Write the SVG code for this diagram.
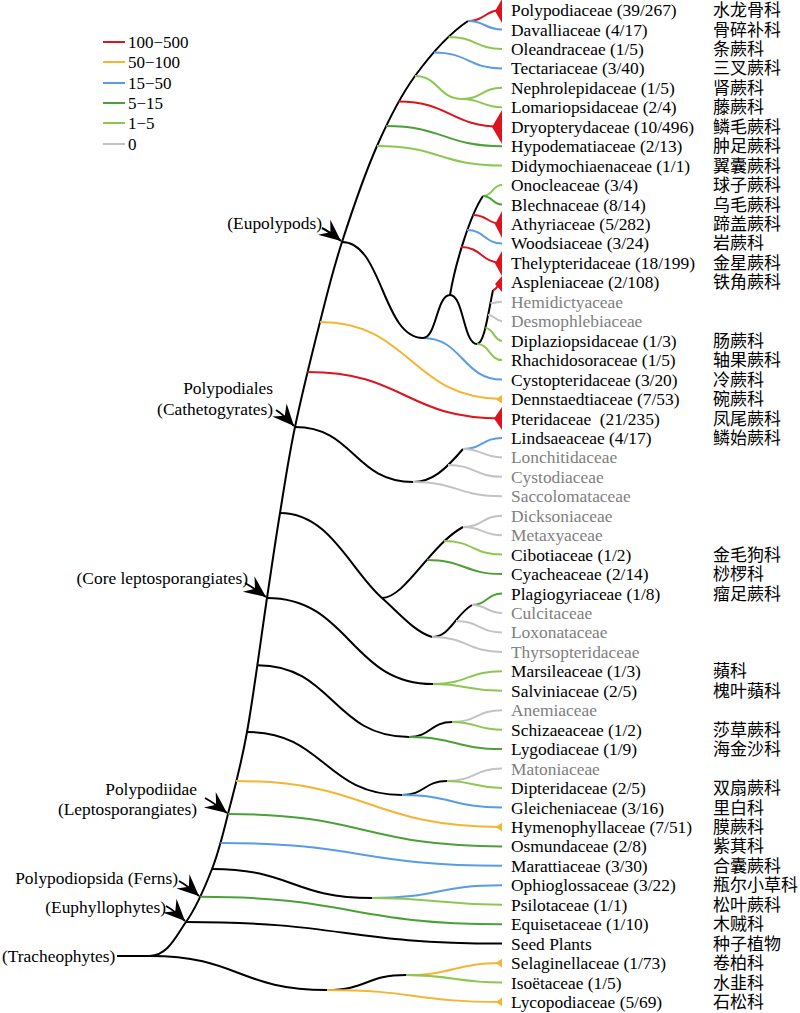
<svg xmlns="http://www.w3.org/2000/svg" width="800" height="1013" viewBox="0 0 800 1013">
<defs>
<style>
.t{font-family:"Liberation Serif","Times New Roman",serif;font-size:17.4px;fill:#000}
.g{fill:#808080}
.c{font-family:"Noto Sans CJK SC","Noto Sans CJK TC",sans-serif;font-size:17px;fill:#000}
.e{text-anchor:end}
.lg{font-family:"Liberation Serif",serif;font-size:17px}
path{fill:none;stroke-width:2}
.k{stroke:#000}
.R{stroke:#dc141e}.O{stroke:#f5b432}.B{stroke:#5a9be6}.G{stroke:#4ba037}.L{stroke:#8cc850}.Y{stroke:#c3c3c3}
.tr{fill:#dc141e;stroke:none}.to{fill:#f5b432;stroke:none}
.ar{stroke:#000;stroke-width:2;fill:none}
</style>
<marker id="ah" markerUnits="userSpaceOnUse" orient="auto" refX="0" refY="0" markerWidth="24" markerHeight="24" viewBox="-20 -10 21 20" overflow="visible">
<path d="M0,0 L-19,-8.5 L-12,0 L-19,8.5 Z" style="fill:#000;stroke:none"/>
</marker>
</defs>
<rect width="800" height="1013" fill="#fff"/>

<g id="legend">
<path class="R" d="M103,42 H125"/><path class="O" d="M103,62 H125"/><path class="B" d="M103,83 H125"/><path class="G" d="M103,103 H125"/><path class="L" d="M103,123 H125"/><path class="Y" d="M103,144 H125"/>
<text class="lg" x="128" y="48">100−500</text>
<text class="lg" x="128" y="68">50−100</text>
<text class="lg" x="128" y="89">15−50</text>
<text class="lg" x="128" y="109">5−15</text>
<text class="lg" x="128" y="129">1−5</text>
<text class="lg" x="128" y="150">0</text>
</g>

<g id="connectors">
<path class="k" d="M117,956 L150,956"/>
<path class="k" d="M150,956 C168,955 175.7,936.5 186,922 C196.3,907.5 205,887 212,869 C219,851 222.2,836.8 228,814 C233.8,791.2 240.5,768 247,732 C253.5,696 261.5,634.5 267,598 C272.5,561.5 275.3,541.5 280,513 C284.7,484.5 288.3,458.8 295,427 C301.7,395.2 312.2,352.8 320,322 C327.8,291.2 332.5,271.3 342,242 C351.5,212.7 364.8,173.7 377,146 C389.2,118.3 399.8,96.8 415,76 C430.2,55.2 450,33 468,21"/>
<path class="R" d="M468,21 C485,21 485,10 502,10"/>
<path class="B" d="M468,21 C485,21 485,29.5 502,29.5"/>
<path class="L" d="M448.7,36.9 C475.4,36.9 475.4,48.9 502,48.9"/>
<path class="B" d="M434,52.4 C468,52.4 468,68.4 502,68.4"/>
<path class="L" d="M415,76 C438.5,76 438.5,99 462,99"/>
<path class="L" d="M462,99 C482,99 482,87.8 502,87.8"/>
<path class="L" d="M462,99 C482,99 482,107.3 502,107.3"/>
<path class="R" d="M398.5,101.5 C450.3,101.5 450.3,126.7 502,126.7"/>
<path class="G" d="M386,126 C444,126 444,146.2 502,146.2"/>
<path class="L" d="M377,146 C439.5,146 439.5,165.6 502,165.6"/>

<path class="k" d="M342,242 C382.5,242 382.5,338 423,338"/>
<path class="B" d="M423,338 C462.5,338 462.5,379.6 502,379.6"/>
<path class="k" d="M423,338 C436.5,338 436.5,295 450,295"/>
<path class="k" d="M450,295 C455,265 470,215 483,196"/>
<path class="k" d="M450,295 C463.5,295 463.5,344 477,344"/>
<path class="k" d="M477,344 C484,343 487,320 493,290"/>
<path class="L" d="M483,196 C492.5,196 492.5,185.1 502,185.1"/>
<path class="G" d="M483,196 C492.5,196 492.5,204.5 502,204.5"/>
<path class="R" d="M473,215 C487.5,215 487.5,224 502,224"/>
<path class="B" d="M467,230 C484.5,230 484.5,243.4 502,243.4"/>
<path class="R" d="M461,247 C481.5,247 481.5,262.9 502,262.9"/>
<path class="R" d="M493,290 C497.5,290 497.5,282.3 502,282.3"/>
<path class="Y" d="M490.5,303 C496,303 496,301.8 502,301.8"/>
<path class="Y" d="M488,315 C495,315 495,321.2 502,321.2"/>
<path class="L" d="M485.4,328 C493.7,328 493.7,340.7 502,340.7"/>
<path class="L" d="M477,344 C489.5,344 489.5,360.1 502,360.1"/>

<path class="O" d="M320,322 C411,322 411,399 502,399"/>
<path class="R" d="M307.5,372 C404.8,372 404.8,418.5 502,418.5"/>

<path class="k" d="M295,427 C354,427 354,482 413,482"/>
<path class="k" d="M413,482 C432,482 445,470 463,449"/>
<path class="B" d="M463,449 C482.5,449 482.5,437.9 502,437.9"/>
<path class="Y" d="M463,449 C482.5,449 482.5,457.4 502,457.4"/>
<path class="Y" d="M448,465 C475,465 475,476.8 502,476.8"/>
<path class="Y" d="M413,482 C457.5,482 457.5,496.3 502,496.3"/>

<path class="k" d="M280,513 C330,513 350,570 382,598 C400,614 415,632 432,637"/>
<path class="k" d="M382,598 C405,598 430,545 463,527"/>
<path class="Y" d="M463,527 C482.5,527 482.5,515.7 502,515.7"/>
<path class="Y" d="M463,527 C482.5,527 482.5,535.2 502,535.2"/>
<path class="L" d="M444,541 C473,541 473,554.6 502,554.6"/>
<path class="G" d="M427,560 C464.5,560 464.5,574.1 502,574.1"/>
<path class="k" d="M432,637 C450,637 455,615 472,605"/>
<path class="G" d="M472,605 C487,605 487,593.5 502,593.5"/>
<path class="Y" d="M472,605 C487,605 487,613 502,613"/>
<path class="Y" d="M456,621 C479,621 479,632.4 502,632.4"/>
<path class="Y" d="M432,637 C467,637 467,651.9 502,651.9"/>

<path class="k" d="M267,598 C350,598 350,684 433,684"/>
<path class="L" d="M433,684 C467.5,684 467.5,671.3 502,671.3"/>
<path class="L" d="M433,684 C467.5,684 467.5,690.8 502,690.8"/>

<path class="k" d="M257.4,665.2 C333,665.2 333,737 409,737"/>
<path class="k" d="M409,737 C430.5,737 430.5,722 452,722"/>
<path class="Y" d="M452,722 C477,722 477,710.2 502,710.2"/>
<path class="L" d="M452,722 C477,722 477,729.7 502,729.7"/>
<path class="G" d="M409,737 C455.5,737 455.5,749.1 502,749.1"/>

<path class="k" d="M247,732 C324.5,732 324.5,795 402,795"/>
<path class="k" d="M402,795 C424.5,795 424.5,781 447,781"/>
<path class="Y" d="M447,781 C474.5,781 474.5,768.6 502,768.6"/>
<path class="L" d="M447,781 C474.5,781 474.5,788 502,788"/>
<path class="B" d="M402,795 C452,795 452,807.5 502,807.5"/>

<path class="O" d="M236,781 C369,781 369,826.9 502,826.9"/>
<path class="G" d="M228,814 C365,814 365,846.4 502,846.4"/>
<path class="B" d="M220.5,843 C361.3,843 361.3,865.8 502,865.8"/>
<path class="k" d="M212,869 C292,869 292,898 372,898"/>
<path class="B" d="M372,898 C437,898 437,885.3 502,885.3"/>
<path class="L" d="M372,898 C437,898 437,904.7 502,904.7"/>
<path class="G" d="M200.2,896.8 C351,896.8 351,924.2 502,924.2"/>
<path class="k" d="M186,922 C344,922 344,943.6 502,943.6"/>

<path class="k" d="M150,956 C238.5,956 238.5,990 327,990"/>
<path class="k" d="M327,990 C366.5,990 366.5,975 406,975"/>
<path class="O" d="M406,975 C454,975 454,963.1 502,963.1"/>
<path class="L" d="M406,975 C454,975 454,982.5 502,982.5"/>
<path class="O" d="M327,990 C414.5,990 414.5,1002 502,1002"/>

<path class="ar" d="M322,228 Q330,232 341,241" marker-end="url(#ah)"/>
<path class="ar" d="M276,410 Q284,415 294,426" marker-end="url(#ah)"/>
<path class="ar" d="M245,583 Q254,588 266,597" marker-end="url(#ah)"/>
<path class="ar" d="M205,798 Q214,803 227,813" marker-end="url(#ah)"/>
<path class="ar" d="M179,881 Q188,886 199,896" marker-end="url(#ah)"/>
<path class="ar" d="M166,906 Q175,911 185,921" marker-end="url(#ah)"/>
</g>

<g id="clade-labels">
<g id="c-eupolypods"><text class="t e" x="322" y="229">(Eupolypods)</text></g>
<g id="c-polypodiales"><text class="t e" x="273" y="394">Polypodiales</text><text class="t e" x="273" y="415">(Cathetogyrates)</text></g>
<g id="c-core"><text class="t e" x="248" y="584">(Core leptosporangiates)</text></g>
<g id="c-polypodiidae"><text class="t e" x="197" y="795">Polypodiidae</text><text class="t e" x="197" y="815">(Leptosporangiates)</text></g>
<g id="c-ferns"><text class="t e" x="178" y="884">Polypodiopsida (Ferns)</text></g>
<g id="c-euphyll"><text class="t e" x="166" y="913">(Euphyllophytes)</text></g>
<g id="c-tracheo"><text class="t" x="2" y="962">(Tracheophytes)</text></g>
</g>

<g id="n01"><polygon class="tr" points="502,-1 502,23 495,11"/><text class="t" x="511" y="16">Polypodiaceae (39/267)</text><text class="c" x="713" y="16">水龙骨科</text></g>
<g id="n02"><text class="t" x="511" y="35.5">Davalliaceae (4/17)</text><text class="c" x="713" y="35.5">骨碎补科</text></g>
<g id="n03"><text class="t" x="511" y="54.9">Oleandraceae (1/5)</text><text class="c" x="713" y="54.9">条蕨科</text></g>
<g id="n04"><text class="t" x="511" y="74.4">Tectariaceae (3/40)</text><text class="c" x="713" y="74.4">三叉蕨科</text></g>
<g id="n05"><text class="t" x="511" y="93.8">Nephrolepidaceae (1/5)</text><text class="c" x="713" y="93.8">肾蕨科</text></g>
<g id="n06"><text class="t" x="511" y="113.3">Lomariopsidaceae (2/4)</text><text class="c" x="713" y="113.3">藤蕨科</text></g>
<g id="n07"><polygon class="tr" points="502,110 502,144 492,127"/><text class="t" x="511" y="132.7">Dryopterydaceae (10/496)</text><text class="c" x="713" y="132.7">鳞毛蕨科</text></g>
<g id="n08"><text class="t" x="511" y="152.2">Hypodematiaceae (2/13)</text><text class="c" x="713" y="152.2">肿足蕨科</text></g>
<g id="n09"><text class="t" x="511" y="171.6">Didymochiaenaceae (1/1)</text><text class="c" x="713" y="171.6">翼囊蕨科</text></g>
<g id="n10"><text class="t" x="511" y="191.1">Onocleaceae (3/4)</text><text class="c" x="713" y="191.1">球子蕨科</text></g>
<g id="n11"><text class="t" x="511" y="210.5">Blechnaceae (8/14)</text><text class="c" x="713" y="210.5">乌毛蕨科</text></g>
<g id="n12"><polygon class="tr" points="502,211 502,238 495,224.5"/><text class="t" x="511" y="230">Athyriaceae (5/282)</text><text class="c" x="713" y="230">蹄盖蕨科</text></g>
<g id="n13"><text class="t" x="511" y="249.4">Woodsiaceae (3/24)</text><text class="c" x="713" y="249.4">岩蕨科</text></g>
<g id="n14"><polygon class="tr" points="502,251 502,276 495,263.5"/><text class="t" x="511" y="268.9">Thelypteridaceae (18/199)</text><text class="c" x="713" y="268.9">金星蕨科</text></g>
<g id="n15"><polygon class="tr" points="502,276 502,292 495,284"/><text class="t" x="511" y="288.3">Aspleniaceae (2/108)</text><text class="c" x="713" y="288.3">铁角蕨科</text></g>
<g id="n16"><text class="t g" x="511" y="307.8">Hemidictyaceae</text></g>
<g id="n17"><text class="t g" x="511" y="327.2">Desmophlebiaceae</text></g>
<g id="n18"><text class="t" x="511" y="346.7">Diplaziopsidaceae (1/3)</text><text class="c" x="713" y="346.7">肠蕨科</text></g>
<g id="n19"><text class="t" x="511" y="366.1">Rhachidosoraceae (1/5)</text><text class="c" x="713" y="366.1">轴果蕨科</text></g>
<g id="n20"><text class="t" x="511" y="385.6">Cystopteridaceae (3/20)</text><text class="c" x="713" y="385.6">冷蕨科</text></g>
<g id="n21"><polygon class="to" points="502,395 502,403.5 495.5,399.2"/><text class="t" x="511" y="405">Dennstaedtiaceae (7/53)</text><text class="c" x="713" y="405">碗蕨科</text></g>
<g id="n22"><polygon class="tr" points="502,407 502,430 494,418.5"/><text class="t" x="511" y="424.5" xml:space="preserve">Pteridaceae  (21/235)</text><text class="c" x="713" y="424.5">凤尾蕨科</text></g>
<g id="n23"><text class="t" x="511" y="443.9">Lindsaeaceae (4/17)</text><text class="c" x="713" y="443.9">鳞始蕨科</text></g>
<g id="n24"><text class="t g" x="511" y="463.4">Lonchitidaceae</text></g>
<g id="n25"><text class="t g" x="511" y="482.8">Cystodiaceae</text></g>
<g id="n26"><text class="t g" x="511" y="502.3">Saccolomataceae</text></g>
<g id="n27"><text class="t g" x="511" y="521.7">Dicksoniaceae</text></g>
<g id="n28"><text class="t g" x="511" y="541.2">Metaxyaceae</text></g>
<g id="n29"><text class="t" x="511" y="560.6">Cibotiaceae (1/2)</text><text class="c" x="713" y="560.6">金毛狗科</text></g>
<g id="n30"><text class="t" x="511" y="580.1">Cyacheaceae (2/14)</text><text class="c" x="713" y="580.1">桫椤科</text></g>
<g id="n31"><text class="t" x="511" y="599.5">Plagiogyriaceae (1/8)</text><text class="c" x="713" y="599.5">瘤足蕨科</text></g>
<g id="n32"><text class="t g" x="511" y="619">Culcitaceae</text></g>
<g id="n33"><text class="t g" x="511" y="638.4">Loxonataceae</text></g>
<g id="n34"><text class="t g" x="511" y="657.9">Thyrsopteridaceae</text></g>
<g id="n35"><text class="t" x="511" y="677.3">Marsileaceae (1/3)</text><text class="c" x="713" y="677.3">蘋科</text></g>
<g id="n36"><text class="t" x="511" y="696.8">Salviniaceae (2/5)</text><text class="c" x="713" y="696.8">槐叶蘋科</text></g>
<g id="n37"><text class="t g" x="511" y="716.2">Anemiaceae</text></g>
<g id="n38"><text class="t" x="511" y="735.7">Schizaeaceae (1/2)</text><text class="c" x="713" y="735.7">莎草蕨科</text></g>
<g id="n39"><text class="t" x="511" y="755.1">Lygodiaceae (1/9)</text><text class="c" x="713" y="755.1">海金沙科</text></g>
<g id="n40"><text class="t g" x="511" y="774.6">Matoniaceae</text></g>
<g id="n41"><text class="t" x="511" y="794">Dipteridaceae (2/5)</text><text class="c" x="713" y="794">双扇蕨科</text></g>
<g id="n42"><text class="t" x="511" y="813.5">Gleicheniaceae (3/16)</text><text class="c" x="713" y="813.5">里白科</text></g>
<g id="n43"><polygon class="to" points="502,822.7 502,831.2 495.5,826.9"/><text class="t" x="511" y="832.9">Hymenophyllaceae (7/51)</text><text class="c" x="713" y="832.9">膜蕨科</text></g>
<g id="n44"><text class="t" x="511" y="852.4">Osmundaceae (2/8)</text><text class="c" x="713" y="852.4">紫萁科</text></g>
<g id="n45"><text class="t" x="511" y="871.8">Marattiaceae (3/30)</text><text class="c" x="713" y="871.8">合囊蕨科</text></g>
<g id="n46"><text class="t" x="511" y="891.3">Ophioglossaceae (3/22)</text><text class="c" x="713" y="891.3">瓶尔小草科</text></g>
<g id="n47"><text class="t" x="511" y="910.7">Psilotaceae (1/1)</text><text class="c" x="713" y="910.7">松叶蕨科</text></g>
<g id="n48"><text class="t" x="511" y="930.2">Equisetaceae (1/10)</text><text class="c" x="713" y="930.2">木贼科</text></g>
<g id="n49"><text class="t" x="511" y="949.6">Seed Plants</text><text class="c" x="713" y="949.6">种子植物</text></g>
<g id="n50"><polygon class="to" points="502,958.8 502,967.3 495.5,963.1"/><text class="t" x="511" y="969.1">Selaginellaceae (1/73)</text><text class="c" x="713" y="969.1">卷柏科</text></g>
<g id="n51"><text class="t" x="511" y="988.5">Isoëtaceae (1/5)</text><text class="c" x="713" y="988.5">水韭科</text></g>
<g id="n52"><polygon class="to" points="502,997.7 502,1006.2 495.5,1002"/><text class="t" x="511" y="1008">Lycopodiaceae (5/69)</text><text class="c" x="713" y="1008">石松科</text></g>
</svg>
